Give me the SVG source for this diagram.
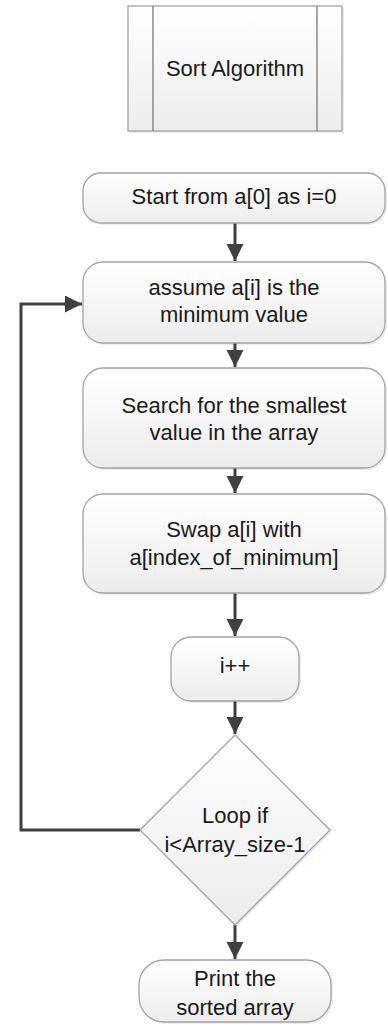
<svg xmlns="http://www.w3.org/2000/svg" width="388" height="1025" viewBox="0 0 388 1025">
<style>
.box{fill:url(#g);stroke:#a3a3a3;stroke-width:1.3}
.sh{fill:#000;opacity:0.07}
.t{font-family:"Liberation Sans",Arial,sans-serif;font-size:22px;fill:#1a1a1a;text-anchor:middle}
.c{fill:none;stroke:#404040;stroke-width:3}
</style>
<defs>
<linearGradient id="g" x1="0" y1="0" x2="0" y2="1">
<stop offset="0" stop-color="#ffffff"/>
<stop offset="1" stop-color="#ececec"/>
</linearGradient>
<marker id="a" markerUnits="userSpaceOnUse" markerWidth="18" markerHeight="18" refX="17" refY="8.5" orient="auto">
<path d="M0,0 L17,8.5 L0,17 z" fill="#404040"/>
</marker>
</defs>
<rect width="388" height="1025" fill="#ffffff"/>
<g id="connectors">
<line class="c" x1="235" y1="223" x2="235" y2="261" marker-end="url(#a)"/>
<line class="c" x1="235" y1="343" x2="235" y2="367" marker-end="url(#a)"/>
<line class="c" x1="235" y1="468" x2="235" y2="493" marker-end="url(#a)"/>
<line class="c" x1="235" y1="593" x2="235" y2="636" marker-end="url(#a)"/>
<line class="c" x1="235" y1="701" x2="235" y2="734" marker-end="url(#a)"/>
<line class="c" x1="235" y1="925" x2="235" y2="959" marker-end="url(#a)"/>
<path class="c" d="M140,830 H21 V304 H82" marker-end="url(#a)"/>
</g>
<g id="sort">
<rect class="sh" x="130" y="8" width="214" height="125"/>
<rect class="box" x="128" y="6" width="214" height="125"/>
<line x1="153" y1="6" x2="153" y2="131" stroke="#7a7a7a" stroke-width="1.3"/>
<line x1="317" y1="6" x2="317" y2="131" stroke="#7a7a7a" stroke-width="1.3"/>
<text class="t" x="235" y="76">Sort Algorithm</text>
</g>
<g id="start">
<rect class="sh" x="85" y="175" width="302" height="50" rx="18"/>
<rect class="box" x="83" y="173" width="302" height="50" rx="18"/>
<text class="t" x="234" y="204">Start from a[0] as i=0</text>
</g>
<g id="assume">
<rect class="sh" x="85" y="264" width="302" height="81" rx="20"/>
<rect class="box" x="83" y="262" width="302" height="81" rx="20"/>
<text class="t" x="234" y="295">assume a[i] is the</text>
<text class="t" x="234" y="322">minimum value</text>
</g>
<g id="search">
<rect class="sh" x="85" y="370" width="302" height="100" rx="20"/>
<rect class="box" x="83" y="368" width="302" height="100" rx="20"/>
<text class="t" x="234" y="413">Search for the smallest</text>
<text class="t" x="234" y="440">value in the array</text>
</g>
<g id="swap">
<rect class="sh" x="85" y="496" width="302" height="99" rx="20"/>
<rect class="box" x="83" y="494" width="302" height="99" rx="20"/>
<text class="t" x="234" y="537">Swap a[i] with</text>
<text class="t" x="234" y="565">a[index_of_minimum]</text>
</g>
<g id="inc">
<rect class="sh" x="173" y="639" width="128" height="64" rx="20"/>
<rect class="box" x="171" y="637" width="128" height="64" rx="20"/>
<text class="t" x="235" y="673">i++</text>
</g>
<g id="loop">
<polygon class="sh" points="237,737 332,832 237,927 142,832"/>
<polygon class="box" points="235,735 330,830 235,925 140,830"/>
<text class="t" x="235" y="823">Loop if</text>
<text class="t" x="235" y="852">i&lt;Array_size-1</text>
</g>
<g id="print">
<rect class="sh" x="141" y="962" width="192" height="62" rx="25"/>
<rect class="box" x="139" y="960" width="192" height="62" rx="25"/>
<text class="t" x="235" y="986">Print the</text>
<text class="t" x="235" y="1015">sorted array</text>
</g>
</svg>
